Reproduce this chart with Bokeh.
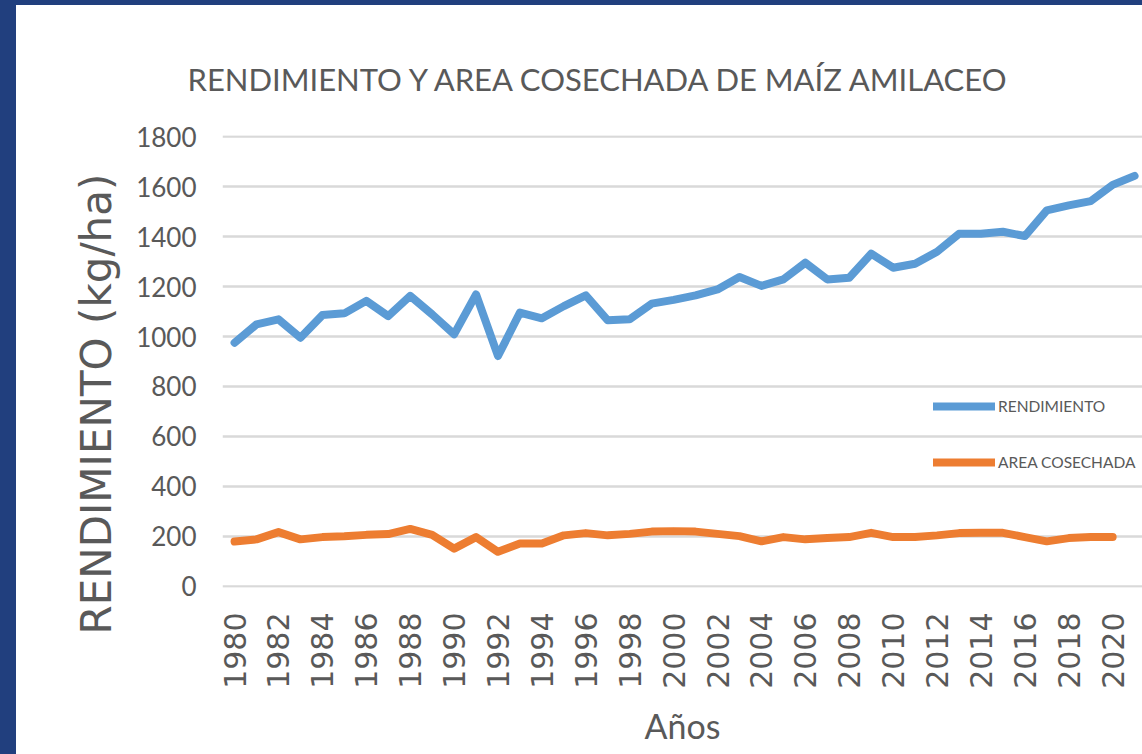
import math
from bokeh.plotting import figure
from bokeh.models import Range1d, FixedTicker, Legend, LegendItem, Title, Spacer
from bokeh.layouts import row, column
from bokeh.embed import file_html
from bokeh.resources import INLINE

# ---------------- data ----------------
years = list(range(1980, 2022))
rendimiento = [975, 1049, 1069, 995, 1086, 1093, 1143, 1082, 1163, 1089,
               1009, 1169, 922, 1096, 1073, 1122, 1165, 1065, 1069, 1132,
               1147, 1165, 1189, 1239, 1203, 1229, 1296, 1229, 1236, 1332,
               1276, 1292, 1340, 1412, 1412, 1420, 1403, 1506, 1526, 1543,
               1608, 1644]
area_years = list(range(1980, 2021))
area_cosechada = [178, 187, 216, 187, 196, 199, 205, 208, 229, 205,
                  150, 196, 137, 170, 170, 203, 212, 203, 209, 218,
                  220, 218, 209, 200, 179, 196, 187, 192, 196, 213,
                  196, 196, 203, 212, 213, 213, 196, 179, 192, 196,
                  196]
x_ticks = list(range(1980, 2021, 2))
y_ticks = list(range(0, 1801, 200))

chart_title = "RENDIMIENTO Y AREA COSECHADA DE MAÍZ AMILACEO"
y_label = "RENDIMIENTO (kg/ha)"
x_label = "Años"
series_names = ["RENDIMIENTO", "AREA COSECHADA"]

NARROW = "Lato"
WIDE = "DejaVu Sans"
TXT = "#595959"
BLUE = "#5B9BD5"
ORANGE = "#ED7D31"
GRID = "#D9D9D9"
NAVY = "#213F7E"

FIG_W, FIG_H = 1126, 749

p = figure(width=FIG_W, height=FIG_H, output_backend="svg", toolbar_location=None,
           x_range=Range1d(1979.45, 2021.36), y_range=Range1d(-6, 1806),
           min_border_left=206, min_border_right=0,
           min_border_top=130, min_border_bottom=167)
p.outline_line_color = None
p.background_fill_color = "white"
p.border_fill_color = "white"

# title
p.title.text = chart_title
p.title.text_font = NARROW
p.title.text_font_size = "31px"
p.title.text_font_style = "normal"
p.title.text_color = TXT
p.title.align = "left"
p.title.offset = -35
p.title.standoff = 76

# y axis
p.yaxis.ticker = FixedTicker(ticks=y_ticks)
p.yaxis.axis_line_color = None
p.yaxis.major_tick_line_color = None
p.yaxis.minor_tick_line_color = None
p.yaxis.major_label_text_font = NARROW
p.yaxis.major_label_text_font_size = "26px"
p.yaxis.major_label_text_color = TXT
p.yaxis.major_label_standoff = 20

ytitle = Title(text=y_label, text_font=WIDE, text_font_size="42px",
               text_font_style="normal", text_color=TXT,
               align="left", offset=-47, standoff=25)
p.add_layout(ytitle, "left")

# x axis
p.xaxis.ticker = FixedTicker(ticks=x_ticks)
p.xaxis.axis_line_color = None
p.xaxis.major_tick_line_color = None
p.xaxis.minor_tick_line_color = None
p.xaxis.major_label_orientation = math.pi / 2
p.xaxis.major_label_text_font = WIDE
p.xaxis.major_label_text_font_size = "30px"
p.xaxis.major_label_text_color = TXT
p.xaxis.major_label_standoff = 19
p.xaxis.axis_label = x_label
p.xaxis.axis_label_text_font = NARROW
p.xaxis.axis_label_text_font_size = "34px"
p.xaxis.axis_label_text_font_style = "normal"
p.xaxis.axis_label_text_color = TXT
p.xaxis.axis_label_standoff = 13

# grid
p.xgrid.visible = False
p.ygrid.grid_line_color = GRID
p.ygrid.grid_line_width = 2.5

# series
r1 = p.line(years, rendimiento, line_color=BLUE, line_width=8,
            line_join="round", line_cap="round")
r2 = p.line(area_years, area_cosechada, line_color=ORANGE, line_width=8,
            line_join="round", line_cap="round")

legend = Legend(items=[LegendItem(label=series_names[0], renderers=[r1]),
                       LegendItem(label=series_names[1], renderers=[r2])],
                location=(711, 113), orientation="vertical",
                glyph_width=62, glyph_height=24, label_height=24,
                label_standoff=3, spacing=32, padding=0, margin=0,
                border_line_color=None, background_fill_alpha=0,
                label_text_font=NARROW, label_text_font_size="15.5px",
                label_text_color=TXT)
p.add_layout(legend)

top_strip = Spacer(width=1142, height=5, styles={"background-color": NAVY})
left_strip = Spacer(width=16, height=FIG_H, styles={"background-color": NAVY})
layout = column(top_strip, row(left_strip, p))

open("out.html", "w").write(file_html(layout, INLINE, title="Rendimiento"))
